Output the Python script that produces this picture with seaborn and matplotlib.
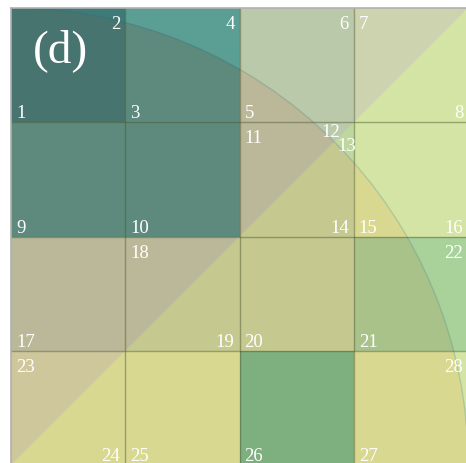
import matplotlib
matplotlib.use("Agg")
import matplotlib.pyplot as plt
import numpy as np
import seaborn as sns
from matplotlib.colors import ListedColormap
from matplotlib.patches import Arc, Polygon, Wedge

# 4x4 grid, each cell belongs to one colour class
class_names = ["dark teal", "teal", "grey", "light", "sage", "green"]
cell_class = [
    [0, 1, 2, 3],
    [1, 1, 2, 3],
    [2, 2, 2, 4],
    [3, 3, 5, 3],
]

# shade of every class in each of the four regions
# (inside / outside the quarter circle, above / below the diagonal)
region_colors = {
    "out_lower": ["#3e7a78", "#5a9e94", "#bdd79e", "#d3e4a4", "#a8d29a", "#7daf7f"],
    "out_upper": ["#3e7a78", "#5a9e94", "#b9c9a9", "#cdd3ae", "#a8d29a", "#7daf7f"],
    "in_lower": ["#487470", "#5d8a7c", "#c5c98f", "#d8d890", "#a9c28a", "#7daf7f"],
    "in_upper": ["#487470", "#5d8a7c", "#bab898", "#cfc79c", "#a9c28a", "#7daf7f"],
}

# vertex numbers: (label, row, col, corner of the cell)
vertex_labels = [
    ("1", 0, 0, "bl"), ("2", 0, 0, "tr"), ("3", 0, 1, "bl"), ("4", 0, 1, "tr"),
    ("5", 0, 2, "bl"), ("6", 0, 2, "tr"), ("7", 0, 3, "tl"), ("8", 0, 3, "br"),
    ("9", 1, 0, "bl"), ("10", 1, 1, "bl"), ("11", 1, 2, "tl"), ("14", 1, 2, "br"),
    ("15", 1, 3, "bl"), ("16", 1, 3, "br"), ("17", 2, 0, "bl"), ("18", 2, 1, "tl"),
    ("19", 2, 1, "br"), ("20", 2, 2, "bl"), ("21", 2, 3, "bl"), ("22", 2, 3, "tr"),
    ("23", 3, 0, "tl"), ("24", 3, 0, "br"), ("25", 3, 1, "bl"), ("26", 3, 2, "bl"),
    ("27", 3, 3, "bl"), ("28", 3, 3, "tr"),
]
panel_label = "(d)"

sns.set_theme(style="white")
plt.rcParams["font.family"] = ["Liberation Serif", "DejaVu Serif"]

grid = np.array(cell_class)
n = grid.shape[0]

fig = plt.figure(figsize=(4.66, 4.64), dpi=100)
ax = fig.add_axes([11 / 466, 1 - 466.1 / 464, 457.2 / 466, 457.1 / 464])

# clip regions, in heatmap coordinates (y grows downward, bottom-left is (0, n))
clips = {
    "out_lower": None,
    "out_upper": Polygon([(0, 0), (n, 0), (0, n)], closed=True, transform=ax.transData),
    "in_lower": Wedge((0, n), n, 270, 360, transform=ax.transData),
    "in_upper": Wedge((0, n), n, 270, 315, transform=ax.transData),
}

for region in ["out_lower", "out_upper", "in_lower", "in_upper"]:
    sns.heatmap(
        grid,
        ax=ax,
        cmap=ListedColormap(region_colors[region]),
        vmin=-0.5,
        vmax=len(class_names) - 0.5,
        cbar=False,
        xticklabels=False,
        yticklabels=False,
    )
    mesh = ax.collections[-1]
    if clips[region] is not None:
        mesh.set_clip_path(clips[region])

for k in range(1, n):
    ax.axhline(k, color="#4a5530", lw=1.0, alpha=0.45)
    ax.axvline(k, color="#4a5530", lw=1.0, alpha=0.45)

ax.add_patch(Arc((0, n), 2 * n, 2 * n, theta1=270, theta2=360,
                 color="#24667e", lw=1.0, alpha=0.2))

ax.set_xticks([])
ax.set_yticks([])
for side in ["top", "left"]:
    ax.spines[side].set_visible(True)
    ax.spines[side].set_color("#b0b0b0")
    ax.spines[side].set_linewidth(1.2)

corner_style = {
    "bl": (0, 1, 5, 5, "left", "baseline"),
    "br": (1, 1, -5, 5, "right", "baseline"),
    "tl": (0, 0, 5, -7, "left", "top"),
    "tr": (1, 0, -5, -7, "right", "top"),
}
for text, row, col, corner in vertex_labels:
    dx, dy, ox, oy, ha, va = corner_style[corner]
    ax.annotate(text, (col + dx, row + dy), xytext=(ox, oy), textcoords="offset pixels",
                ha=ha, va=va, color="white", fontsize=13.5)

# the two labels at the circle / diagonal crossing
cross = n / np.sqrt(2)
ax.annotate("12", (cross, n - cross), xytext=(6, 6), textcoords="offset pixels",
            ha="right", va="baseline", color="white", fontsize=13.5)
ax.annotate("13", (cross, n - cross), xytext=(3, 5), textcoords="offset pixels",
            ha="left", va="top", color="white", fontsize=13.5)

ax.text(0.437, 0.36, panel_label, ha="center", va="center", color="white", fontsize=34)

fig.savefig("out.png", dpi=100)
